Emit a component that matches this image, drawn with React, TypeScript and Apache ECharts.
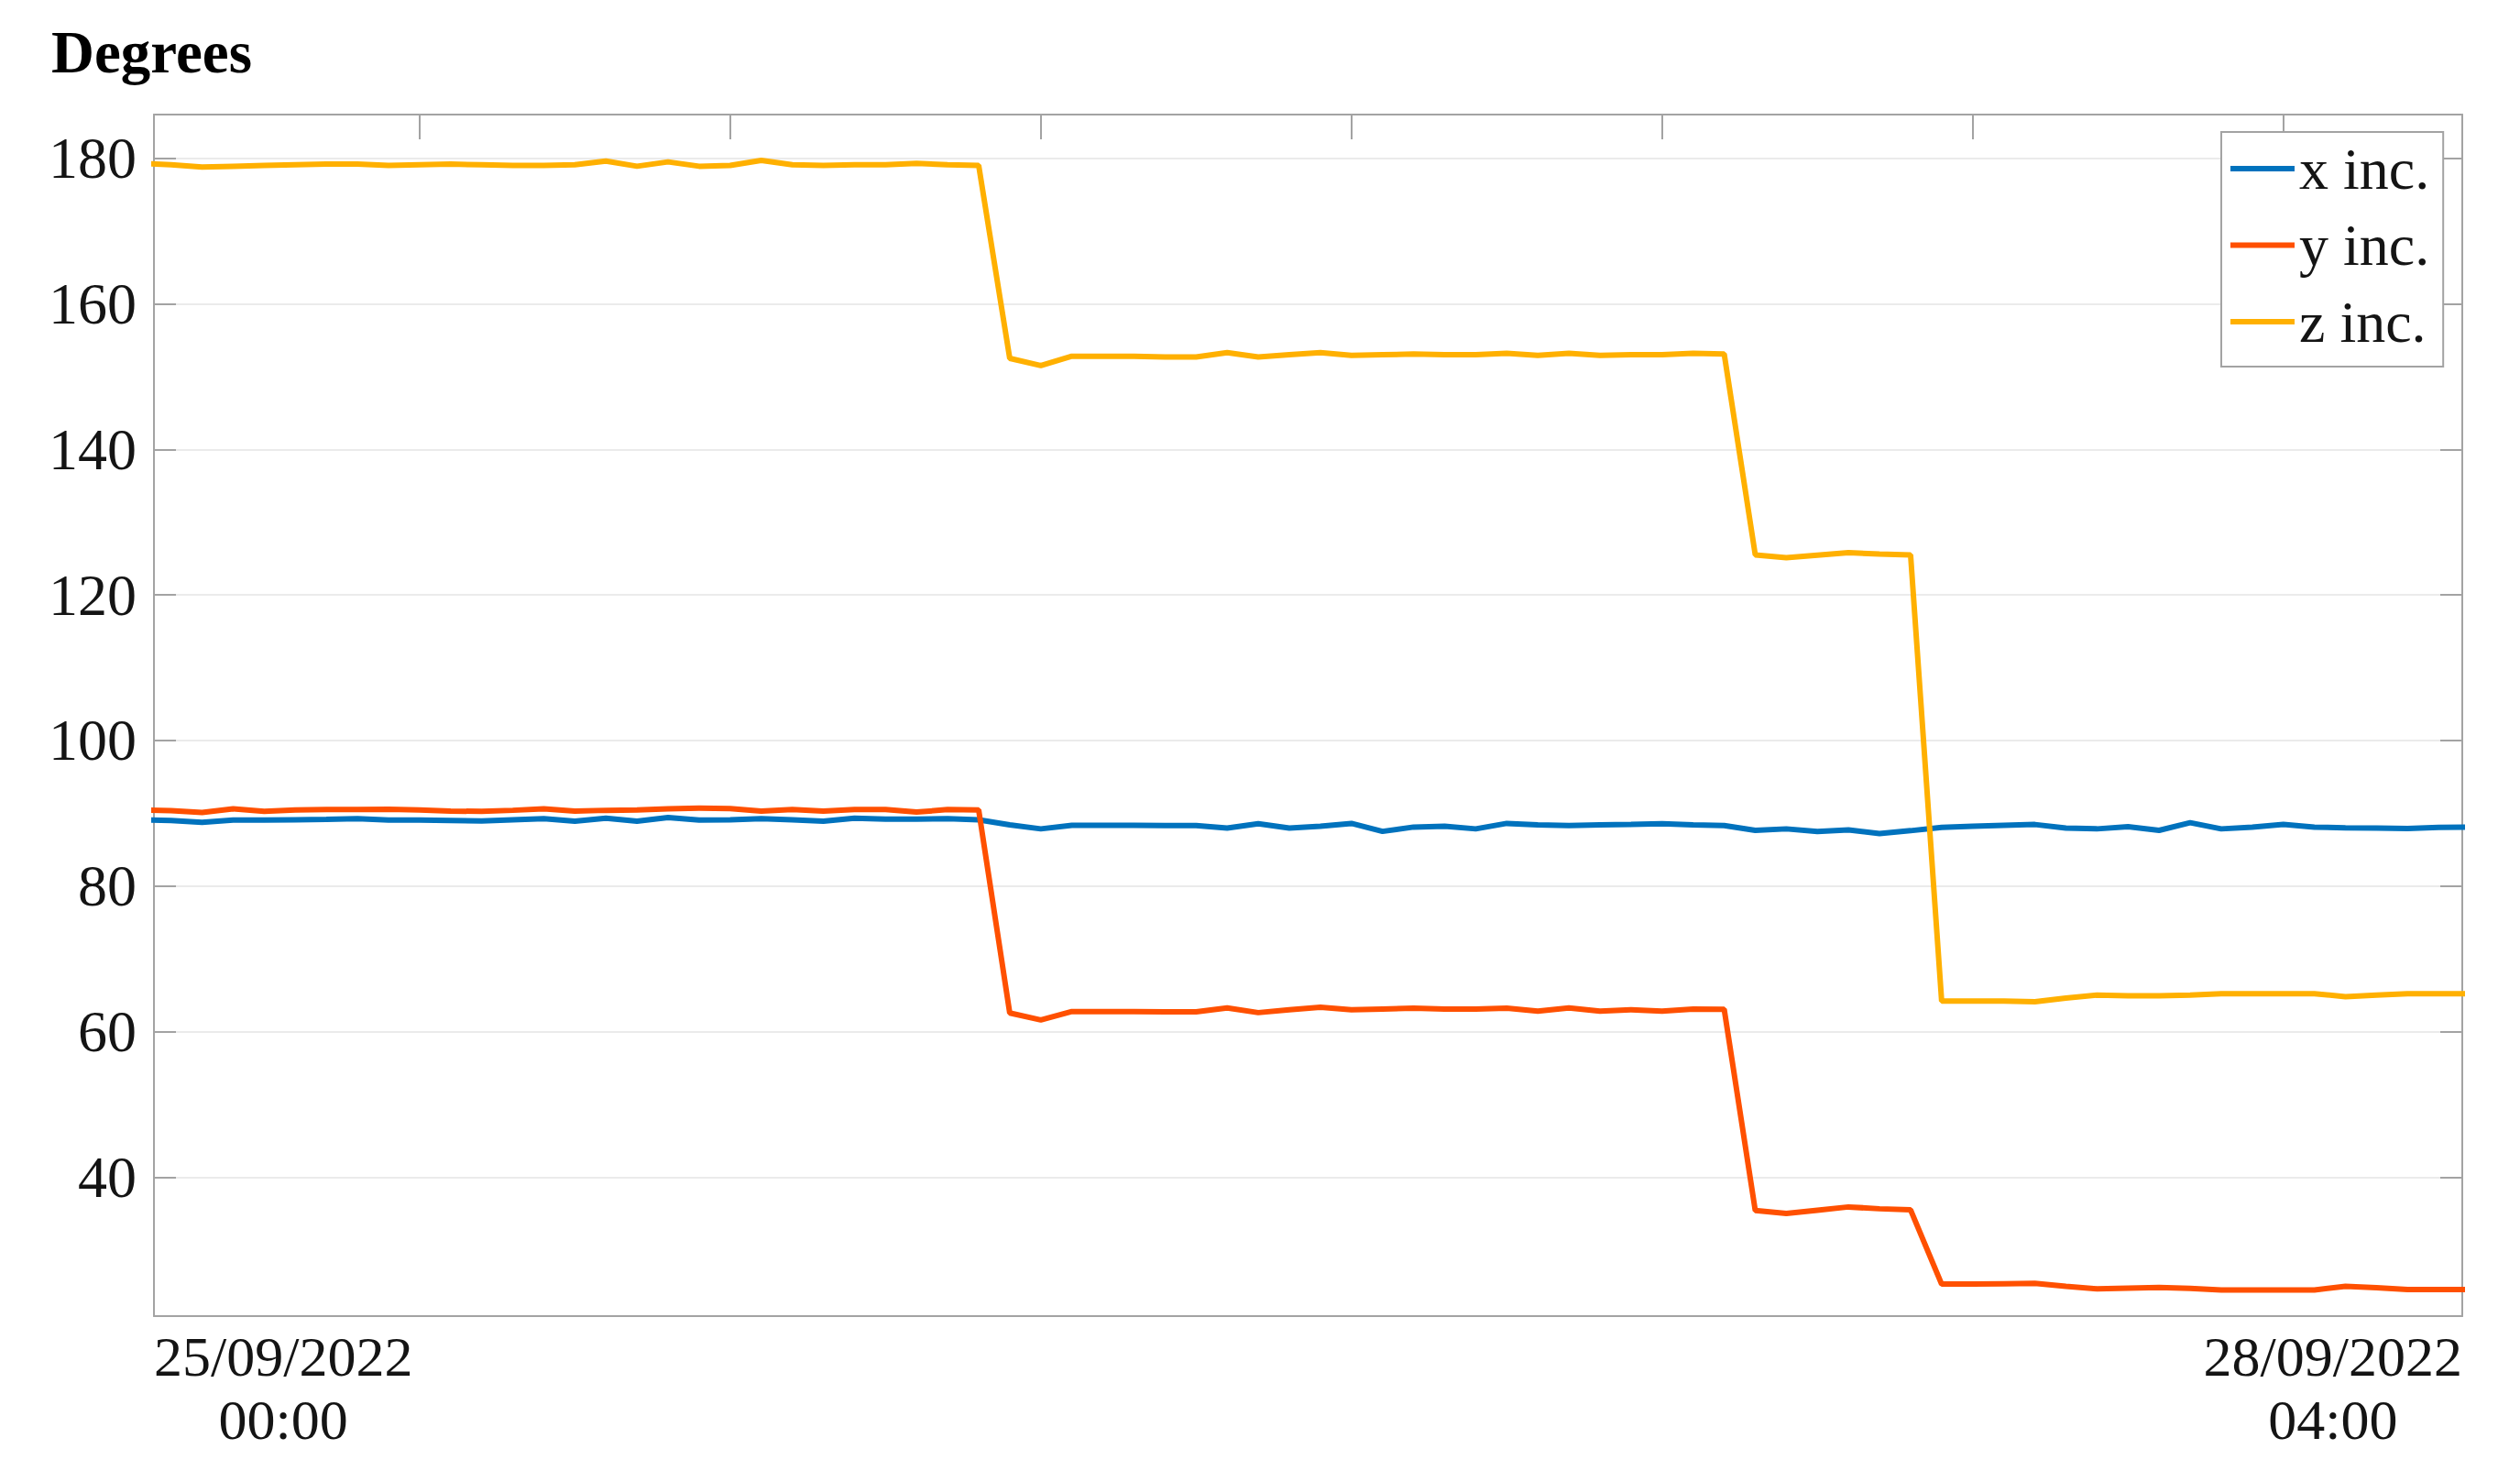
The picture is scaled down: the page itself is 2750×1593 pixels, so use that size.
import React, { useEffect, useRef } from 'react';
import * as echarts from 'echarts';

// ---- Data -------------------------------------------------------------
const seriesNames = ['x inc.', 'y inc.', 'z inc.'];
const seriesColors = ['#0072BD', '#FF5000', '#FFB000'];

// hourly samples; hours counted from 25/09/2022 00:00 (first sample at 24/09 23:33)
const firstSampleHour = -0.45;
const sampleStepHours = 1;
const axisStartHour = 0;
const axisEndHour = 74.31;

const xLabelDates = ['25/09/2022', '28/09/2022'];
const xLabelTimes = ['00:00', '04:00'];
const yTicks = [40, 60, 80, 100, 120, 140, 160, 180];
const yMin = 20.9;
const yMax = 186;
// sample indices that carry a tick on the top edge
const topTickSamples = [9, 19, 29, 39, 49, 59, 69];

const xInc = [
  89.1, 89.0, 88.75, 89.05, 89.05, 89.1, 89.15, 89.25, 89.05, 89.05,
  89.0, 88.95, 89.1, 89.25, 88.9, 89.3, 88.9, 89.4, 89.05, 89.1,
  89.25, 89.1, 88.9, 89.3, 89.2, 89.2, 89.25, 89.1, 88.4, 87.85,
  88.35, 88.35, 88.35, 88.3, 88.3, 87.95, 88.55, 87.95, 88.2, 88.6,
  87.5, 88.1, 88.2, 87.85, 88.6, 88.4, 88.3, 88.4, 88.45, 88.55,
  88.4, 88.3, 87.65, 87.85, 87.5, 87.7, 87.2, 87.6, 88.05, 88.2,
  88.35, 88.45, 87.95, 87.85, 88.15, 87.65, 88.7, 87.85, 88.1, 88.45,
  88.1, 88.0, 87.95, 87.9, 88.05, 88.1,
];

const yInc = [
  90.45, 90.35, 90.1, 90.6, 90.25, 90.45, 90.5, 90.5, 90.55, 90.45,
  90.3, 90.25, 90.4, 90.6, 90.3, 90.4, 90.45, 90.6, 90.7, 90.65,
  90.3, 90.5, 90.3, 90.5, 90.5, 90.15, 90.5, 90.45, 62.55, 61.6,
  62.75, 62.75, 62.75, 62.7, 62.7, 63.25, 62.6, 63.0, 63.35, 63.0,
  63.1, 63.2, 63.1, 63.1, 63.2, 62.8, 63.25, 62.8, 63.0, 62.8,
  63.1, 63.05, 35.4, 35.0, 35.45, 35.9, 35.65, 35.5, 25.3, 25.3,
  25.35, 25.4, 25.0, 24.65, 24.75, 24.85, 24.7, 24.5, 24.5, 24.5,
  24.5, 25.0, 24.8, 24.55, 24.55, 24.55,
];

const zInc = [
  179.3, 179.1, 178.8, 178.9, 179.0, 179.1, 179.2, 179.2, 179.0, 179.1,
  179.2, 179.1, 179.0, 179.0, 179.1, 179.6, 178.9, 179.5, 178.9, 179.0,
  179.7, 179.1, 179.0, 179.1, 179.1, 179.3, 179.1, 179.0, 152.5, 151.5,
  152.8, 152.8, 152.8, 152.7, 152.7, 153.3, 152.7, 153.0, 153.3, 152.9,
  153.0, 153.1, 153.0, 153.0, 153.2, 152.9, 153.2, 152.9, 153.0, 153.0,
  153.2, 153.1, 125.5, 125.1, 125.45, 125.8, 125.6, 125.5, 64.2, 64.2,
  64.2, 64.1, 64.6, 65.0, 64.9, 64.9, 65.0, 65.2, 65.2, 65.2,
  65.2, 64.8, 65.0, 65.2, 65.2, 65.2,
];

const seriesValues = [xInc, yInc, zInc];

// ---- Chart ------------------------------------------------------------
const FONT = "'Liberation Serif', 'Times New Roman', serif";
const AXIS_GRAY = '#a3a3a3';
const TEXT = '#141414';

const sampleHours = xInc.map((_, i) => firstSampleHour + i * sampleStepHours);
const topTickHours = topTickSamples.map((i) => sampleHours[i]);

function buildOption(): echarts.EChartsOption {
  const axisLine = { show: true, onZero: false, lineStyle: { color: AXIS_GRAY, width: 2 } };
  const labelRich = {
    d: { fontFamily: FONT, fontSize: 62, lineHeight: 69, color: TEXT, align: 'center' as const },
    t: { fontFamily: FONT, fontSize: 62, lineHeight: 69, color: TEXT, align: 'center' as const },
  };
  return {
    animation: false,
    backgroundColor: '#ffffff',
    textStyle: { fontFamily: FONT },
    title: {
      text: 'Degrees',
      left: 56,
      top: 24,
      padding: 0,
      textStyle: { fontFamily: FONT, fontSize: 65, fontWeight: 'bold', color: '#000', lineHeight: 65 },
    },
    legend: {
      orient: 'vertical',
      left: 2424,
      top: 144,
      padding: [8, 15, 17, 10],
      itemGap: 19.5,
      itemWidth: 70,
      itemHeight: 6,
      icon: 'rect',
      backgroundColor: '#ffffff',
      borderColor: AXIS_GRAY,
      borderWidth: 2,
      borderRadius: 0,
      textStyle: { fontFamily: FONT, fontSize: 64, color: TEXT, lineHeight: 64 },
      data: seriesNames,
    },
    grid: { left: 168, right: 63, top: 125, bottom: 157 },
    xAxis: [
      {
        type: 'value',
        position: 'bottom',
        min: axisStartHour,
        max: axisEndHour,
        axisLine,
        axisTick: { show: false },
        splitLine: { show: false },
        axisLabel: {
          show: true,
          margin: 9,
          customValues: [axisStartHour, axisEndHour],
          alignMinLabel: 'left',
          alignMaxLabel: 'right',
          formatter: (v: number) => {
            const i = v === axisStartHour ? 0 : 1;
            return `{d|${xLabelDates[i]}}\n{t|${xLabelTimes[i]}}`;
          },
          rich: labelRich,
        } as any,
      },
      {
        type: 'value',
        position: 'top',
        min: axisStartHour,
        max: axisEndHour,
        axisLine,
        axisTick: {
          show: true,
          inside: true,
          length: 27,
          customValues: topTickHours,
          lineStyle: { color: AXIS_GRAY, width: 2 },
        } as any,
        axisLabel: { show: false },
        splitLine: { show: false },
      },
    ],
    yAxis: [
      {
        type: 'value',
        position: 'left',
        min: yMin,
        max: yMax,
        minInterval: 20,
        maxInterval: 20,
        axisLine,
        axisTick: { show: true, inside: true, length: 24, lineStyle: { color: AXIS_GRAY, width: 2 } },
        axisLabel: {
          margin: 19,
          fontFamily: FONT,
          fontSize: 64,
          color: TEXT,
          showMinLabel: false,
          showMaxLabel: false,
          formatter: (v: number) => (yTicks.includes(v) ? String(v) : ''),
        },
        splitLine: { show: true, lineStyle: { color: '#ebebeb', width: 2 } },
      },
      {
        type: 'value',
        position: 'right',
        min: yMin,
        max: yMax,
        minInterval: 20,
        maxInterval: 20,
        axisLine,
        axisTick: { show: true, inside: true, length: 24, lineStyle: { color: AXIS_GRAY, width: 2 } },
        axisLabel: { show: false },
        splitLine: { show: false },
      },
    ],
    series: seriesNames.map((name, s) => ({
      name,
      type: 'line',
      xAxisIndex: 0,
      yAxisIndex: 0,
      showSymbol: false,
      symbol: 'none',
      clip: true,
      color: seriesColors[s],
      lineStyle: { color: seriesColors[s], width: 6 },
      data: seriesValues[s].map((v, i) => [sampleHours[i], v]),
    })),
  } as echarts.EChartsOption;
}

export default function App() {
  const ref = useRef<HTMLDivElement>(null);
  useEffect(() => {
    if (!ref.current) return;
    const chart = echarts.init(ref.current, undefined, { renderer: 'svg' });
    chart.setOption(buildOption());
    return () => chart.dispose();
  }, []);
  return (
    <div
      ref={ref}
      style={{ position: 'fixed', left: 0, top: 0, width: 2750, height: 1593, background: '#fff' }}
    />
  );
}
